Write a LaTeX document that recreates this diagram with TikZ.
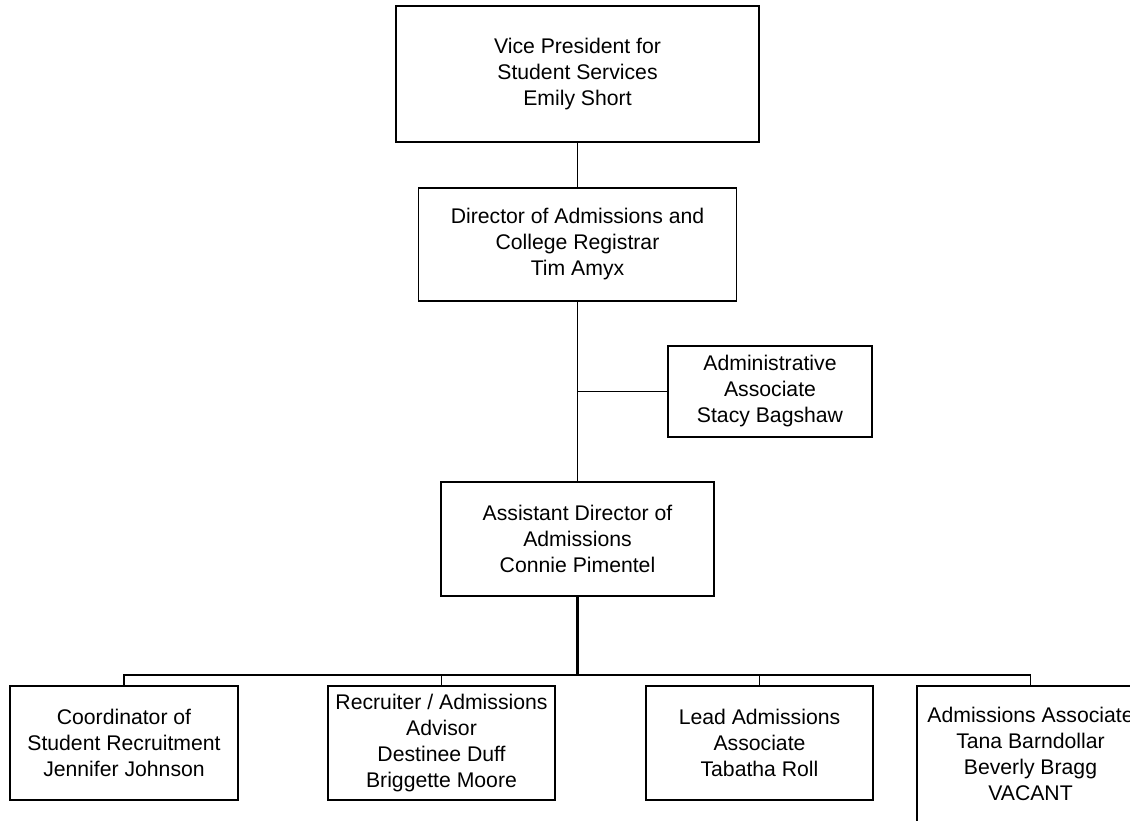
\documentclass[tikz,border=0pt]{standalone}
\usepackage{fontspec}
\setmainfont{Liberation Sans}
\usepackage{tikz}
\usetikzlibrary{positioning,calc}

\begin{document}
\begin{tikzpicture}[x=0.5pt,y=-0.5pt,
  postbox/.style={draw,line width=0.85pt,align=center,inner sep=0pt,
    font=\fontsize{10.6}{13}\selectfont},
  link/.style={line width=0.85pt}]
\useasboundingbox (0,0) rectangle (1130,820);
\clip (0,0) rectangle (1130,820);
% top of the chart
\node[postbox,minimum width=181.5pt,minimum height=68pt] (vp) at (577.5,74)
  {Vice President for\\Student Services\\Emily Short};
\node[postbox,minimum width=159pt,minimum height=56.5pt] (dir) at (577.5,244.5)
  {Director of Admissions and\\College Registrar\\Tim Amyx};
\node[postbox,minimum width=102pt,minimum height=45.5pt] (adm) at (770,391.5)
  {Administrative\\Associate\\Stacy Bagshaw};
\node[postbox,minimum width=136.5pt,minimum height=57pt] (asst) at (577.5,539)
  {Assistant Director of\\Admissions\\Connie Pimentel};
% bottom row
\node[postbox,minimum width=114pt,minimum height=57pt] (coord) at (124,743)
  {Coordinator of\\Student Recruitment\\Jennifer Johnson};
\node[postbox,minimum width=113.5pt,minimum height=57pt] (recr) at (441.5,743)
  {Recruiter / Admissions\\Advisor\\Destinee Duff\\Briggette Moore};
\node[postbox,minimum width=113.5pt,minimum height=57pt] (lead) at (759.5,743)
  {Lead Admissions\\Associate\\Tabatha Roll};
\node[postbox,minimum width=113.5pt,minimum height=68pt] (assoc) at (1030.5,754)
  {Admissions Associate\\Tana Barndollar\\Beverly Bragg\\VACANT};
\coordinate (bus) at (577.5,675);
% connectors
\draw[link] (vp.south) -- (dir.north);
\draw[link] (dir.south) -- (asst.north);
\draw[link] (dir.south |- adm.west) -- (adm.west);
\draw[line width=1.4pt] (asst.south) -- (bus);
\draw[link] (coord.north) |- (bus) -| (assoc.north);
\draw[link] (recr.north) -- (recr.north |- bus);
\draw[link] (lead.north) -- (lead.north |- bus);
\end{tikzpicture}
\end{document}
